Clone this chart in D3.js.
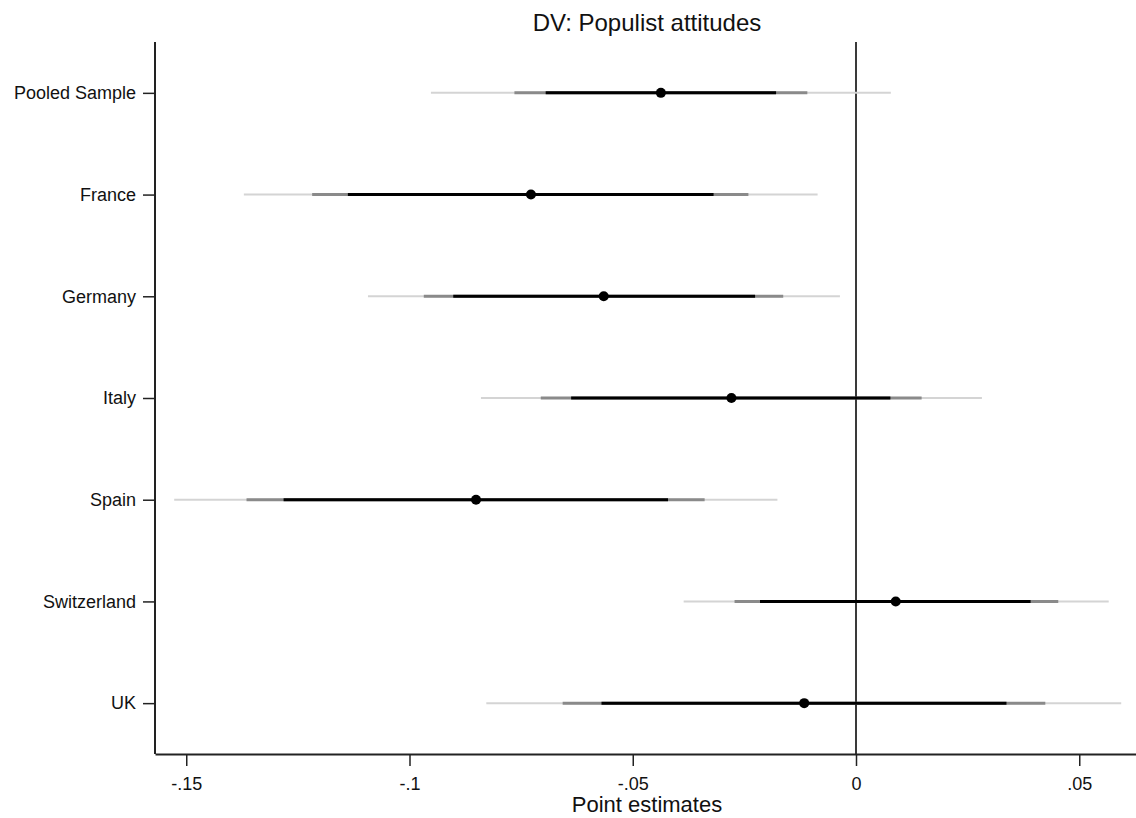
<!DOCTYPE html>
<html><head><meta charset="utf-8">
<script src="https://cdn.jsdelivr.net/npm/d3@7"></script>
<style>body{margin:0;background:#fff}svg{display:block}text{font-family:"Liberation Sans",Arial,sans-serif;fill:#111}</style>
</head><body>
<script>
const categories = ["Pooled Sample","France","Germany","Italy","Spain","Switzerland","UK"];
const estimates  = [-0.0437,-0.0728,-0.0565,-0.0279,-0.0851,0.0089,-0.0116];
const ciInnerLo  = [-0.0695,-0.1138,-0.0902,-0.0638,-0.1282,-0.0215,-0.0570];
const ciInnerHi  = [-0.0179,-0.0319,-0.0226,0.0077,-0.0421,0.0391,0.0337];
const ciMidLo    = [-0.0765,-0.1218,-0.0968,-0.0706,-0.1365,-0.0272,-0.0657];
const ciMidHi    = [-0.0109,-0.0241,-0.0163,0.0147,-0.0339,0.0453,0.0424];
const ciOuterLo  = [-0.0952,-0.1371,-0.1093,-0.0840,-0.1527,-0.0386,-0.0828];
const ciOuterHi  = [0.0078,-0.0086,-0.0036,0.0282,-0.0176,0.0566,0.0594];
const xTicks     = [-0.15,-0.1,-0.05,0,0.05];
const xTickLabels= ["-.15","-.1","-.05","0",".05"];

(function(){
const W=1136,H=818;
const svg=d3.select("body").append("svg").attr("width",W).attr("height",H);
const pL=155,pR=1136,pT=42,pB=754;
const x=d3.scaleLinear().domain([(pL-856)/4465,(pR-856)/4465]).range([pL,pR]);
const y=d3.scalePoint().domain(categories).range([pT,pB]).padding(0.5);

svg.append("line").attr("x1",x(0)).attr("x2",x(0)).attr("y1",pT).attr("y2",pB)
  .attr("stroke","#3a3a3a").attr("stroke-width",2);

const rows=categories.map((c,i)=>({c,i}));
const layer=(lo,hi,color,w)=>svg.append("g").selectAll("line").data(rows).join("line")
  .attr("x1",d=>x(lo[d.i])).attr("x2",d=>x(hi[d.i]))
  .attr("y1",d=>y(d.c)).attr("y2",d=>y(d.c))
  .attr("stroke",color).attr("stroke-width",w);
layer(ciOuterLo,ciOuterHi,"#d4d4d4",2);
layer(ciMidLo,ciMidHi,"#8a8a8a",3);
layer(ciInnerLo,ciInnerHi,"#000",3);
svg.append("g").selectAll("circle").data(rows).join("circle")
  .attr("cx",d=>x(estimates[d.i])).attr("cy",d=>y(d.c)).attr("r",5).attr("fill","#000");

const xa=svg.append("g").attr("transform",`translate(0,${pB})`)
  .call(d3.axisBottom(x).tickValues(xTicks).tickFormat((d,i)=>xTickLabels[i]).tickSize(12).tickSizeOuter(0).tickPadding(11));
const ya=svg.append("g").attr("transform",`translate(${pL},0)`)
  .call(d3.axisLeft(y).tickSize(12).tickSizeOuter(0).tickPadding(7));
[xa,ya].forEach(a=>{
  a.select(".domain").attr("stroke","#222").attr("stroke-width",2);
  a.selectAll(".tick line").attr("stroke","#222").attr("stroke-width",1.5);
  a.selectAll("text").attr("font-size",18).attr("font-family","'Liberation Sans',Arial,sans-serif").attr("fill","#111");
});
ya.select(".domain").attr("d",`M0,${pT}V${pB}`);

svg.append("text").attr("x",647).attr("y",31).attr("text-anchor","middle").attr("font-size",24).text("DV: Populist attitudes");
svg.append("text").attr("x",647).attr("y",812).attr("text-anchor","middle").attr("font-size",22).text("Point estimates");
})();
</script>
</body></html>
